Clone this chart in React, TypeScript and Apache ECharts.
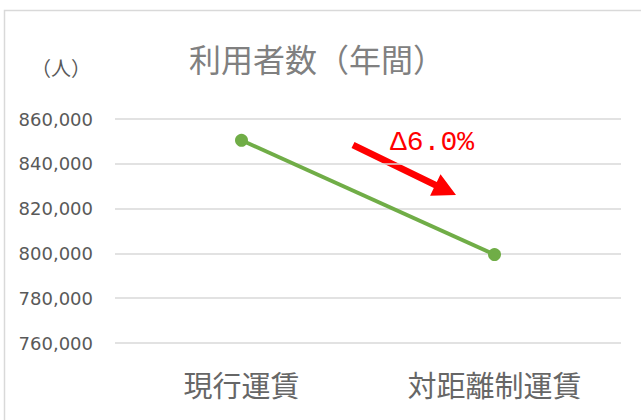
import React, { useEffect, useRef } from "react";
import * as echarts from "echarts";

const categories = ["現行運賃", "対距離制運賃"];
const users = [850500, 799500];
const yMin = 760000;
const yMax = 860000;
const yStep = 20000;
const titleText = "利用者数（年間）";
const unitText = "（人）";
const changeText = "Δ6.0%";

export default function App() {
  const ref = useRef<HTMLDivElement>(null);
  useEffect(() => {
    if (!ref.current) return;
    const chart = echarts.init(ref.current, undefined, { renderer: "svg" });
    chart.setOption({
      animation: false,
      backgroundColor: "#ffffff",
      title: [
        {
          text: titleText,
          left: 189,
          top: 42,
          padding: 0,
          textStyle: {
            fontSize: 32,
            fontWeight: "normal",
            color: "#808080",
            fontFamily: "Noto Sans CJK JP",
          },
        },
        {
          text: unitText,
          left: 31,
          top: 57,
          padding: 0,
          textStyle: {
            fontSize: 20,
            fontWeight: "normal",
            color: "#595959",
            fontFamily: "Noto Sans CJK JP",
          },
        },
      ],
      grid: { left: 115, right: 20, top: 119, bottom: 77 },
      xAxis: {
        type: "category",
        data: categories,
        boundaryGap: true,
        axisLine: { show: false },
        axisTick: { show: false },
        axisLabel: {
          margin: 26,
          fontSize: 29,
          color: "#666666",
          fontFamily: "Noto Sans CJK JP",
        },
      },
      yAxis: {
        type: "value",
        min: yMin,
        max: yMax,
        interval: yStep,
        axisLine: { show: false },
        axisTick: { show: false },
        splitLine: { lineStyle: { color: "#d9d9d9", width: 1.5 } },
        axisLabel: {
          margin: 22,
          fontSize: 18,
          color: "#595959",
          fontFamily: "DejaVu Sans",
          formatter: (v: number) => v.toLocaleString("en-US"),
        },
      },
      series: [
        {
          type: "line",
          data: users,
          symbol: "circle",
          symbolSize: 13,
          lineStyle: { color: "#70ad47", width: 4 },
          itemStyle: { color: "#70ad47" },
        },
      ],
      graphic: [
        {
          type: "rect",
          shape: { x: 4.5, y: 10.5, width: 800, height: 600 },
          style: { fill: "none", stroke: "#d9d9d9", lineWidth: 1.5 },
          silent: true,
          z: -1,
        },
        {
          type: "polygon",
          shape: {
            points: [
              [351.5, 148.1],
              [433.8, 188.1],
              [430.1, 195.8],
              [456, 195],
              [440.5, 174.2],
              [436.8, 181.9],
              [354.5, 141.9],
            ],
          },
          style: { fill: "#ff0000" },
        },
        {
          type: "text",
          x: 390,
          y: 142,
          style: {
            text: changeText,
            fill: "#ff0000",
            fontSize: 28,
            fontFamily: "Liberation Mono",
            verticalAlign: "middle",
            align: "left",
          },
        },
      ],
    });
    return () => chart.dispose();
  }, []);
  return (
    <div
      ref={ref}
      style={{ position: "absolute", left: 0, top: 0, width: 641, height: 420 }}
    />
  );
}
